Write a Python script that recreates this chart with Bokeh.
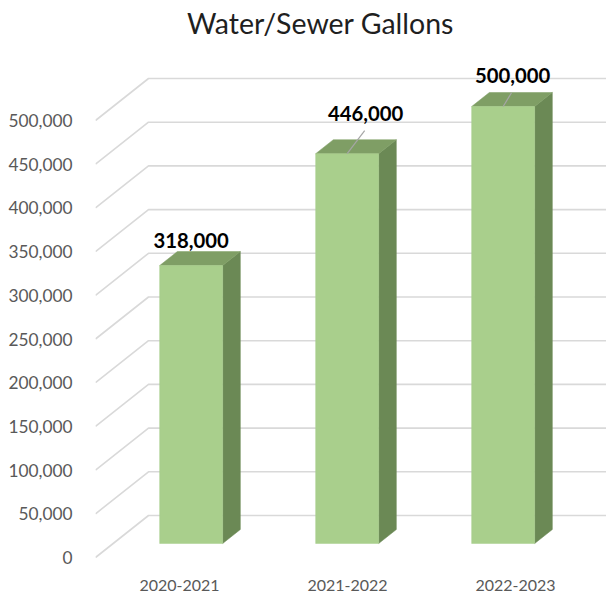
from bokeh.plotting import figure
from bokeh.models import Range1d, LinearAxis, FixedTicker, NumeralTickFormatter
from bokeh.core.properties import value
from bokeh.embed import file_html
from bokeh.resources import INLINE

# ---- data ----
categories = ["2020-2021", "2021-2022", "2022-2023"]
gallons = [318000, 446000, 500000]
y_ticks = [0, 50000, 100000, 150000, 200000, 250000, 300000, 350000, 400000, 450000, 500000]
title_text = "Water/Sewer Gallons"

# ---- layout (pixels) ----
FIG_W, FIG_H = 606, 594
BORDER_L, BORDER_B = 95, 32
FRAME_W = FIG_W - BORDER_L
FRAME_H = FIG_H - BORDER_B
PX_PER_CAT = 156.0
PX_PER_VAL = 43.7 / 50000.0
ZERO_ABOVE_BOTTOM = 5.0
X_START = -0.5
LABEL_PX_PER_CAT = 168.0

x_end = X_START + FRAME_W / PX_PER_CAT
y_start = -ZERO_ABOVE_BOTTOM / PX_PER_VAL
y_end = y_start + FRAME_H / PX_PER_VAL

DEPTH_X = 53.0 / PX_PER_CAT      # full floor depth, x shift
DEPTH_Y = 42.0 / PX_PER_VAL      # full floor depth, y shift
BAR_W = 63.0 / PX_PER_CAT
D0, D1 = 1.0 / 3.0, 2.0 / 3.0   # bar depth slab

FRONT = "#a9cf8c"
TOP = "#7f9e65"
SIDE = "#6b8955"
GRID = "#d9d9d9"
FONT = "Lato"

# data-label offsets in pixels (right, up) and leader flags
LABEL_DX = [0.0, 18.5, 9.5]
LABEL_DY = [25.0, 40.0, 31.0]
LEADER = [False, True, True]

p = figure(width=FIG_W, height=FIG_H, output_backend="svg", toolbar_location=None,
           x_range=Range1d(X_START, x_end), y_range=Range1d(y_start, y_end),
           x_axis_type=None, min_border_left=BORDER_L, min_border_bottom=BORDER_B,
           min_border_top=0, min_border_right=0)
p.outline_line_color = None
p.xgrid.visible = False
p.ygrid.visible = False
p.background_fill_color = "white"
p.border_fill_color = "white"

# y axis (front-left edge of the floor)
ya = p.yaxis[0]
ya.ticker = FixedTicker(ticks=y_ticks)
ya.formatter = NumeralTickFormatter(format="0,0")
ya.axis_line_color = None
ya.major_tick_line_color = None
ya.minor_tick_line_color = None
ya.major_label_standoff = 17
ya.major_label_text_font = FONT
ya.major_label_text_font_size = "17.3px"
ya.major_label_text_color = "#595959"

# category axis
p.extra_x_ranges = {"lab": Range1d(X_START, X_START + FRAME_W / LABEL_PX_PER_CAT)}
xa = LinearAxis(x_range_name="lab", ticker=FixedTicker(ticks=list(range(len(categories)))),
                major_label_overrides={i: c for i, c in enumerate(categories)})
xa.axis_line_color = None
xa.major_tick_line_color = None
xa.minor_tick_line_color = None
xa.major_label_standoff = 11
xa.major_label_text_font = FONT
xa.major_label_text_font_size = "16px"
xa.major_label_text_color = "#595959"
p.add_layout(xa, "below")

# gridlines: diagonal on the left floor edge + back wall horizontal
n = len(categories)
g_xs, g_ys = [], []
for t in y_ticks:
    g_xs.append([X_START, X_START + DEPTH_X, n - 0.5 + DEPTH_X])
    g_ys.append([t, t + DEPTH_Y, t + DEPTH_Y])
p.multi_line(g_xs, g_ys, line_color=GRID, line_width=1.6)

# bars
front_xs, front_ys, top_xs, top_ys, side_xs, side_ys = [], [], [], [], [], []
for i, v in enumerate(gallons):
    xl = i + D0 * DEPTH_X - BAR_W / 2
    xr = i + D0 * DEPTH_X + BAR_W / 2
    yb = D0 * DEPTH_Y
    yt = v + D0 * DEPTH_Y
    ddx = (D1 - D0) * DEPTH_X
    ddy = (D1 - D0) * DEPTH_Y
    front_xs.append([xl, xr, xr, xl]); front_ys.append([yb, yb, yt, yt])
    top_xs.append([xl, xr, xr + ddx, xl + ddx]); top_ys.append([yt, yt, yt + ddy, yt + ddy])
    side_xs.append([xr, xr + ddx, xr + ddx, xr]); side_ys.append([yb, yb + ddy, yt + ddy, yt])
p.patches(side_xs, side_ys, fill_color=SIDE, line_color=SIDE, line_width=0.5)
p.patches(top_xs, top_ys, fill_color=TOP, line_color=TOP, line_width=0.5)
p.patches(front_xs, front_ys, fill_color=FRONT, line_color=FRONT, line_width=0.5)

# data labels + leader lines
lx, ly, lt = [], [], []
sx0, sy0, sx1, sy1 = [], [], [], []
for i, v in enumerate(gallons):
    cx = i + D0 * DEPTH_X
    cy = v + D0 * DEPTH_Y
    tx = cx + LABEL_DX[i] / PX_PER_CAT
    ty = cy + LABEL_DY[i] / PX_PER_VAL
    lx.append(tx); ly.append(ty); lt.append(f"{v:,}")
    if LEADER[i]:
        sx0.append(cx); sy0.append(cy)
        sx1.append(tx - 1.0 / PX_PER_CAT); sy1.append(ty - 17.0 / PX_PER_VAL)
p.segment(sx0, sy0, sx1, sy1, line_color="#a6a6a6", line_width=1.2)
p.text(lx, ly, text=lt, text_font=value(FONT), text_font_style="bold",
       text_font_size="20.3px", text_color="#000000",
       text_align="center", text_baseline="middle")

# title
title_x = X_START + (320 - BORDER_L) / PX_PER_CAT
title_y = y_end - 22 / PX_PER_VAL
p.text([title_x], [title_y], text=[title_text], text_font=value(FONT),
       text_font_size="28.5px", text_color="#1f1f1f",
       text_align="center", text_baseline="middle")

open("out.html", "w").write(file_html(p, INLINE))
